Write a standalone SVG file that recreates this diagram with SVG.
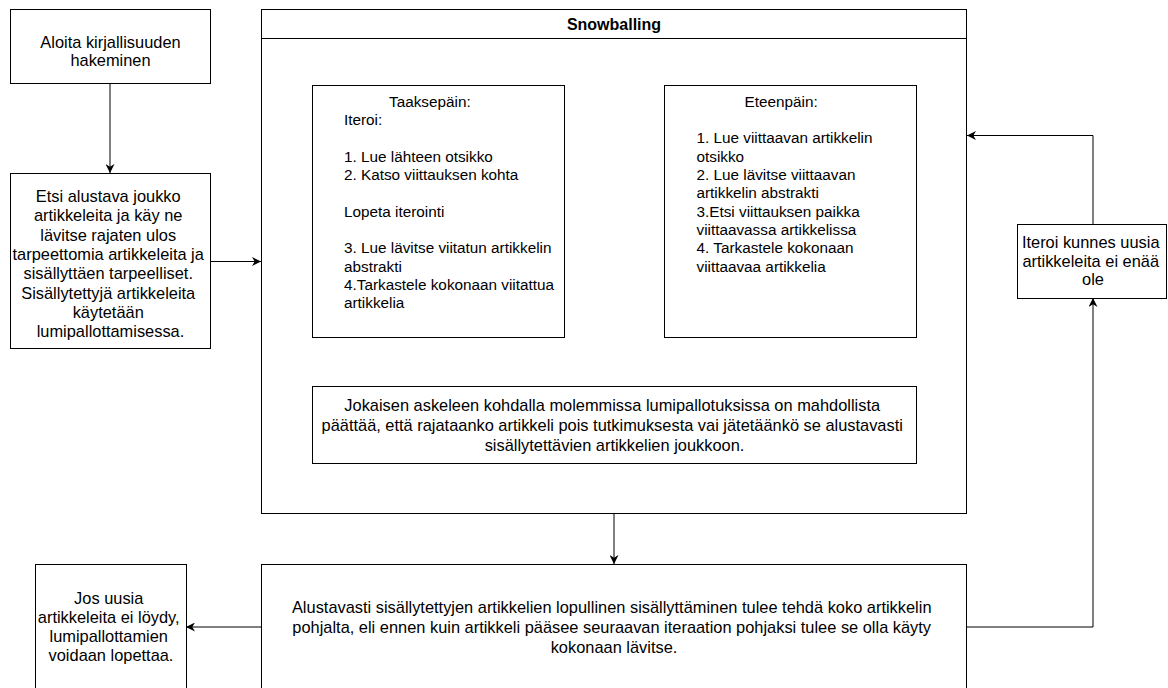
<svg xmlns="http://www.w3.org/2000/svg" width="1168" height="688" viewBox="0 0 1168 688">
  <style>
    .box { fill: #ffffff; stroke: #000000; stroke-width: 1; }
    .edge { fill: none; stroke: #000000; stroke-width: 1; }
    text { font-family: "Liberation Sans", Arial, Helvetica, sans-serif; fill: #000000; }
    .c { text-anchor: middle; }
    .l17 { font-size: 16.4px; }
    .l15 { font-size: 15.3px; }
    .l16 { font-size: 16.4px; }
    .title { font-size: 16px; font-weight: bold; }
  </style>
  <defs>
    <marker id="arrow" viewBox="0 0 10 10" refX="10" refY="5" markerWidth="9" markerHeight="9" markerUnits="userSpaceOnUse" orient="auto">
      <path d="M0,0 L10,5 L0,10 L3,5 Z" fill="#000000"/>
    </marker>
  </defs>
  <rect width="1168" height="688" fill="#ffffff"/>

  <!-- connectors -->
  <g id="connectors">
    <path class="edge" d="M110,84 L110,173" marker-end="url(#arrow)"/>
    <path class="edge" d="M211,261.5 L261,261.5" marker-end="url(#arrow)"/>
    <path class="edge" d="M614,514 L614,564" marker-end="url(#arrow)"/>
    <path class="edge" d="M261,627 L186,627" marker-end="url(#arrow)"/>
    <path class="edge" d="M967,627 L1093,627 L1093,298" marker-end="url(#arrow)"/>
    <path class="edge" d="M1093,224 L1093,135.5 L967,135.5" marker-end="url(#arrow)"/>
  </g>

  <!-- start -->
  <g id="start">
    <rect class="box" x="10.5" y="9.5" width="200" height="74"/>
    <text class="c l17" x="110.5"><tspan x="110.5" y="47.5">Aloita kirjallisuuden</tspan><tspan x="110.5" y="65.8">hakeminen</tspan></text>
  </g>

  <!-- initial set -->
  <g id="initial-set">
    <rect class="box" x="10.5" y="173.5" width="200" height="175"/>
    <text class="c l17">
      <tspan x="110.5" y="202">Etsi alustava joukko</tspan>
      <tspan x="110.5" y="221.3">artikkeleita ja käy ne</tspan>
      <tspan x="110.5" y="240.7">lävitse rajaten ulos</tspan>
      <tspan x="110.5" y="260">tarpeettomia artikkeleita ja</tspan>
      <tspan x="110.5" y="279.3">sisällyttäen tarpeelliset.</tspan>
      <tspan x="110.5" y="298.7">Sisällytettyjä artikkeleita</tspan>
      <tspan x="110.5" y="318">käytetään</tspan>
      <tspan x="110.5" y="337.3">lumipallottamisessa.</tspan>
    </text>
  </g>

  <!-- snowballing container -->
  <g id="snowballing">
    <rect class="box" x="261.5" y="9.5" width="705" height="504"/>
    <line class="edge" x1="261.5" y1="38.5" x2="966.5" y2="38.5"/>
    <text class="c title" x="614" y="29.5">Snowballing</text>
  </g>

  <!-- backward snowballing -->
  <g id="backward">
    <rect class="box" x="312.5" y="85.5" width="252" height="252"/>
    <text class="l15">
      <tspan x="389" y="106.7">Taaksepäin:</tspan>
      <tspan x="344" y="125">Iteroi:</tspan>
      <tspan x="344" y="161.7">1. Lue lähteen otsikko</tspan>
      <tspan x="344" y="180">2. Katso viittauksen kohta</tspan>
      <tspan x="344" y="216.7">Lopeta iterointi</tspan>
      <tspan x="344" y="253.3">3. Lue lävitse viitatun artikkelin</tspan>
      <tspan x="344" y="271.7">abstrakti</tspan>
      <tspan x="344" y="290">4.Tarkastele kokonaan viitattua</tspan>
      <tspan x="344" y="308.3">artikkelia</tspan>
    </text>
  </g>

  <!-- forward snowballing -->
  <g id="forward">
    <rect class="box" x="664.5" y="85.5" width="252" height="252"/>
    <text class="l15">
      <tspan x="744.5" y="106.7">Eteenpäin:</tspan>
      <tspan x="696.5" y="143.3">1. Lue viittaavan artikkelin</tspan>
      <tspan x="696.5" y="161.7">otsikko</tspan>
      <tspan x="696.5" y="180">2. Lue lävitse viittaavan</tspan>
      <tspan x="696.5" y="198.3">artikkelin abstrakti</tspan>
      <tspan x="696.5" y="216.7">3.Etsi viittauksen paikka</tspan>
      <tspan x="696.5" y="235">viittaavassa artikkelissa</tspan>
      <tspan x="696.5" y="253.3">4. Tarkastele kokonaan</tspan>
      <tspan x="696.5" y="271.7">viittaavaa artikkelia</tspan>
    </text>
  </g>

  <!-- decision note -->
  <g id="decision">
    <rect class="box" x="312.5" y="386.5" width="604" height="77"/>
    <text class="c l16">
      <tspan x="614.5" y="410.5">Jokaisen askeleen kohdalla molemmissa lumipallotuksissa on mahdollista</tspan>
      <tspan x="614.5" y="430.5">päättää, että rajataanko artikkeli pois tutkimuksesta vai jätetäänkö se alustavasti</tspan>
      <tspan x="614.5" y="450.5">sisällytettävien artikkelien joukkoon.</tspan>
    </text>
  </g>

  <!-- final inclusion -->
  <g id="final-inclusion">
    <rect class="box" x="261.5" y="564.5" width="705" height="140"/>
    <text class="c l16">
      <tspan x="614" y="613">Alustavasti sisällytettyjen artikkelien lopullinen sisällyttäminen tulee tehdä koko artikkelin</tspan>
      <tspan x="614" y="633.3">pohjalta, eli ennen kuin artikkeli pääsee seuraavan iteraation pohjaksi tulee se olla käyty</tspan>
      <tspan x="614" y="653.3">kokonaan lävitse.</tspan>
    </text>
  </g>

  <!-- iterate -->
  <g id="iterate">
    <rect class="box" x="1017.5" y="224.5" width="149" height="74"/>
    <text class="c l17">
      <tspan x="1093" y="248.3">Iteroi kunnes uusia</tspan>
      <tspan x="1093" y="266.7">artikkeleita ei enää</tspan>
      <tspan x="1093" y="285">ole</tspan>
    </text>
  </g>

  <!-- stop -->
  <g id="stop">
    <rect class="box" x="35.5" y="564.5" width="151" height="140"/>
    <text class="c l17">
      <tspan x="111" y="604.3">Jos uusia</tspan>
      <tspan x="111" y="623.3">artikkeleita ei löydy,</tspan>
      <tspan x="111" y="642.3">lumipallottamien</tspan>
      <tspan x="111" y="661">voidaan lopettaa.</tspan>
    </text>
  </g>
</svg>
